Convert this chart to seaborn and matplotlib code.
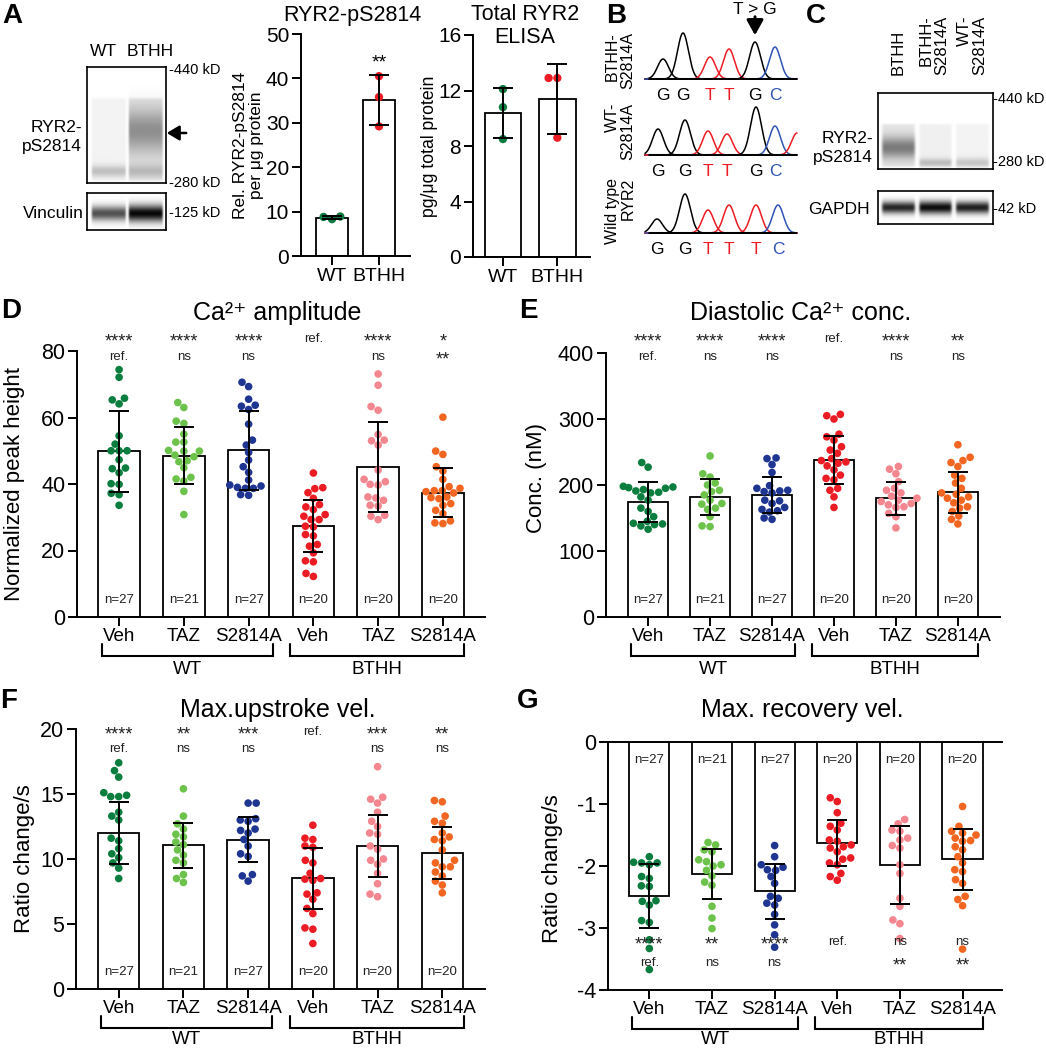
import numpy as np
import pandas as pd
import matplotlib
matplotlib.use("Agg")
import matplotlib.pyplot as plt
import seaborn as sns

W, H = 1046, 1050

# ---------------- data ----------------
groups = ["WT Veh", "WT TAZ", "WT S2814A", "BTHH Veh", "BTHH TAZ", "BTHH S2814A"]
treatments = ["Veh", "TAZ", "S2814A", "Veh", "TAZ", "S2814A"]
group_colors = ["#0b7d3e", "#6cc24a", "#1f3592", "#ec1c24", "#f3868e", "#f26622"]
n_cells = [27, 21, 27, 20, 20, 20]

# D: Ca2+ amplitude
amp_points = [
    [74.4, 72.1, 65.8, 65.3, 64.1, 54.5, 52.0, 50.0, 50.0, 50.0, 47.3, 44.8, 44.6, 43.4, 40.1, 39.9, 37.2, 36.8, 33.6],
    [64.5, 63.0, 58.9, 58.2, 55.0, 52.6, 52.6, 50.1, 49.9, 49.9, 48.7, 48.2, 47.0, 46.7, 44.9, 42.0, 41.5, 40.9, 37.8, 30.8],
    [70.6, 69.3, 65.5, 63.7, 63.4, 62.4, 58.0, 53.2, 51.7, 49.5, 47.2, 45.2, 43.5, 41.2, 39.7, 39.4, 39.0, 38.7, 38.7, 36.8, 36.6],
    [43.3, 38.9, 38.6, 37.4, 35.7, 33.8, 33.1, 32.3, 30.8, 30.3, 29.3, 29.3, 27.3, 27.1, 24.8, 24.4, 21.8, 21.3, 19.3, 16.9, 16.6, 13.1, 12.2],
    [73.1, 69.7, 63.3, 62.2, 54.9, 53.2, 53.0, 51.7, 44.2, 41.4, 40.7, 39.9, 39.7, 36.1, 35.8, 35.1, 33.6, 33.4, 30.6, 30.3, 29.3],
    [60.1, 49.9, 48.9, 45.2, 43.9, 41.4, 39.2, 38.7, 38.0, 38.0, 37.7, 37.3, 36.1, 35.9, 35.6, 34.1, 33.6, 32.1, 31.1, 28.9, 28.3, 28.1],
]
amp_mean = [49.9, 48.5, 50.1, 27.4, 45.1, 37.4]
amp_sd = [12.2, 8.5, 11.8, 7.9, 13.4, 7.4]
amp_sig_top = ["****", "****", "****", "ref.", "****", "*"]
amp_sig_bottom = ["ref.", "ns", "ns", "", "ns", "**"]

# E: diastolic Ca2+ concentration
conc_points = [
    [234, 227, 198, 197, 196, 195, 193, 191, 189, 188, 182, 177, 165, 160, 152, 145, 142, 141, 140, 138, 133],
    [244, 217, 212, 203, 200, 192, 190, 185, 177, 172, 171, 165, 163, 152, 138, 137],
    [241, 240, 231, 219, 199, 195, 192, 191, 190, 188, 177, 176, 172, 166, 163, 161, 159, 150, 148],
    [307, 305, 300, 277, 273, 268, 258, 253, 248, 240, 237, 235, 233, 229, 223, 215, 210, 208, 195, 192, 182, 166],
    [228, 224, 217, 205, 195, 192, 188, 183, 180, 177, 175, 172, 170, 167, 166, 157, 152, 135],
    [261, 242, 237, 234, 228, 215, 210, 203, 195, 188, 186, 182, 180, 177, 173, 167, 165, 160, 153, 148, 141],
]
conc_mean = [173.8, 181.9, 184.9, 237.8, 179.8, 188.9]
conc_sd = [30.5, 27.5, 27.0, 36.3, 24.6, 31.5]
conc_sig_top = ["****", "****", "****", "ref.", "****", "**"]
conc_sig_bottom = ["ref.", "ns", "ns", "", "ns", "ns"]

# F: max upstroke velocity
up_points = [
    [17.4, 16.8, 16.3, 15.1, 14.9, 14.8, 14.8, 13.6, 13.3, 13.0, 11.6, 11.4, 10.8, 10.4, 10.1, 9.7, 9.3, 8.5],
    [15.4, 13.3, 12.7, 12.3, 11.9, 11.7, 11.3, 11.1, 10.7, 10.3, 9.9, 9.7, 8.8, 8.5, 8.2],
    [14.3, 14.3, 13.1, 13.0, 12.9, 12.3, 12.2, 12.0, 11.5, 11.0, 10.4, 10.2, 8.8, 8.7, 8.3],
    [12.6, 11.6, 11.5, 11.0, 10.9, 9.9, 9.7, 8.9, 8.5, 8.45, 8.35, 7.4, 7.3, 6.9, 6.2, 5.8, 4.7, 4.6, 3.5],
    [17.1, 14.75, 14.6, 14.3, 13.6, 12.9, 12.5, 12.0, 11.9, 11.0, 10.75, 10.0, 9.9, 9.6, 8.9, 8.1, 7.3, 7.1],
    [14.5, 14.4, 13.3, 12.9, 12.75, 12.0, 11.7, 11.5, 11.4, 10.7, 9.9, 9.7, 9.4, 9.4, 9.0, 8.7, 8.3, 8.0, 7.4],
]
up_mean = [12.0, 11.06, 11.5, 8.53, 11.0, 10.5]
up_sd = [2.4, 1.74, 1.75, 2.35, 2.35, 2.0]
up_sig_top = ["****", "**", "***", "ref.", "***", "**"]
up_sig_bottom = ["ref.", "ns", "ns", "", "ns", "ns"]

# G: max recovery velocity
rec_points = [
    [-1.85, -1.94, -1.95, -1.95, -1.98, -2.17, -2.2, -2.32, -2.33, -2.56, -2.57, -2.63, -2.88, -2.91, -3.19, -3.33, -3.67],
    [-1.62, -1.66, -1.74, -1.77, -1.9, -1.93, -1.98, -2.0, -2.07, -2.16, -2.26, -2.31, -2.65, -2.84, -3.01],
    [-1.67, -1.85, -1.98, -2.02, -2.06, -2.07, -2.17, -2.28, -2.49, -2.52, -2.6, -2.63, -2.78, -2.95, -3.11, -3.31],
    [-0.9, -0.96, -1.14, -1.31, -1.36, -1.42, -1.58, -1.6, -1.66, -1.69, -1.71, -1.77, -1.87, -1.89, -1.95, -1.98, -2.12, -2.17, -2.23],
    [-1.25, -1.32, -1.42, -1.44, -1.55, -1.58, -1.67, -1.71, -1.98, -2.12, -2.52, -2.65, -2.87, -2.93, -3.17],
    [-1.04, -1.36, -1.44, -1.47, -1.5, -1.55, -1.59, -1.6, -1.69, -1.74, -1.85, -1.95, -2.06, -2.09, -2.22, -2.28, -2.49, -2.54, -2.64, -3.34],
]
rec_mean = [-2.48, -2.13, -2.41, -1.63, -1.98, -1.89]
rec_sd = [0.52, 0.40, 0.45, 0.37, 0.63, 0.49]
rec_sig_top = ["****", "**", "****", "ref.", "ns", "ns"]
rec_sig_bottom = ["ref.", "ns", "ns", "", "**", "**"]

# A: RYR2-pS2814 quantification and total RYR2 ELISA
geno = ["WT", "BTHH"]
geno_colors = ["#0b7d3e", "#ec1c24"]
ps_points = [[8.8, 8.9, 8.3], [40.5, 35.8, 29.2]]
ps_mean = [8.6, 35.2]
ps_sd = [0.35, 5.6]
elisa_points = [[12.1, 10.8, 8.5], [12.9, 12.9, 8.6]]
elisa_mean = [10.4, 11.4]
elisa_sd = [1.8, 2.5]

# blots: per lane smear (top, bottom, level) and gaussian bands (centre, sigma, darkness)
a_ryr_smear = [(0.27, 0.98, 0.05), (0.27, 0.98, 0.11)]
a_ryr_bands = [[(0.9, 0.035, 0.2)], [(0.55, 0.13, 0.33), (0.9, 0.04, 0.16)]]
a_vinc_bands = [[(0.55, 0.14, 0.68)], [(0.55, 0.16, 0.97)]]
c_ryr_smear = [(0.41, 0.97, 0.1), (0.41, 0.97, 0.06), (0.41, 0.97, 0.05)]
c_ryr_bands = [[(0.72, 0.1, 0.42)], [(0.92, 0.04, 0.2)], [(0.92, 0.045, 0.17)]]
c_gapdh_bands = [[(0.5, 0.13, 0.85)], [(0.5, 0.14, 0.95)], [(0.5, 0.13, 0.88)]]

# B: sequencing traces (scan position, peak height, base)
trace_names = ["BTHH-\nS2814A", "WT-\nS2814A", "Wild type\nRYR2"]
trace_peak_x = [[18, 38, 65, 84, 110, 130], [13, 40, 63, 82, 111, 130, 152], [12, 40, 63, 84, 111, 133]]
trace_peak_h = [[20, 46, 22, 30, 37, 32], [26, 35, 24, 21, 48, 29, 22], [14, 39, 23, 28, 28, 28]]
trace_peak_base = [list("GGTTGC"), list("GGTTGCT"), list("GGTTTC")]
trace_calls = [list("GGTTGC"), list("GGTTGC"), list("GGTTTC")]
base_colors = {"G": "black", "T": "#ec1c24", "C": "#2f54b5", "A": "#1f9a3e"}

# ---------------- style ----------------
sns.set_theme(style="ticks", rc={
    "axes.edgecolor": "black", "axes.linewidth": 1.4, "text.color": "black",
    "axes.labelcolor": "black", "xtick.color": "black", "ytick.color": "black",
    "xtick.major.width": 1.4, "ytick.major.width": 1.4,
    "xtick.major.size": 6.5, "ytick.major.size": 6.5,
})
plt.rcParams["font.family"] = ["Liberation Sans", "DejaVu Sans"]
plt.rcParams["axes.unicode_minus"] = False

fig = plt.figure(figsize=(W / 100, H / 100), dpi=100)


def axes_px(left, top, right, bottom):
    return fig.add_axes([left / W, 1 - bottom / H, (right - left) / W, (bottom - top) / H])


def ftext(x, y, s, **kw):
    kw.setdefault("ha", "center")
    kw.setdefault("va", "center")
    fig.text(x / W, 1 - y / H, s, **kw)


def soft_box(t, a, b, e):
    return 1 / (1 + np.exp(-(t - a) / e)) / (1 + np.exp((t - b) / e))


def blot(ax, lane_spans, smears, bands):
    rows = np.linspace(0, 1, 200)[:, None]
    cols = np.linspace(0, 1, 300)[None, :]
    img = np.zeros((200, 300))
    for i, (x0, x1) in enumerate(lane_spans):
        prof = np.zeros_like(rows)
        if smears is not None:
            top, bot, lvl = smears[i]
            prof = prof + lvl * soft_box(rows, top, bot, 0.006)
        for c, s, d in bands[i]:
            prof = prof + d * np.exp(-0.5 * ((rows - c) / s) ** 2)
        img += soft_box(cols, x0, x1, 0.006) * prof
    ax.imshow(np.clip(img, 0, 1), cmap="gray_r", vmin=0, vmax=1, aspect="auto",
              extent=(0, 1, 1, 0), interpolation="bilinear")
    ax.set_xticks([])
    ax.set_yticks([])
    for sp in ax.spines.values():
        sp.set_visible(True)
        sp.set_linewidth(1.2)
        sp.set_color("black")


def bars_with_points(ax, labels, colors, points, means, sds, width, dot_size, capsize):
    df_bar = pd.DataFrame({"group": labels, "value": means})
    sns.barplot(df_bar, x="group", y="value", order=labels, color="white", saturation=1,
                edgecolor="black", linewidth=1.3, width=width, errorbar=None, ax=ax)
    df_pts = pd.DataFrame({"group": np.repeat(labels, [len(p) for p in points]),
                           "value": np.concatenate(points)})
    sns.swarmplot(df_pts, x="group", y="value", order=labels, hue="group", hue_order=labels,
                  palette=colors, size=dot_size, legend=False, ax=ax, zorder=3)
    ax.errorbar(np.arange(len(labels)), means, yerr=sds, fmt="none", ecolor="black",
                elinewidth=1.4, capsize=capsize, capthick=1.4, zorder=4)
    ax.set_xlabel("")


def group_bracket(ax, x0, x1, label, text_px):
    h = ax.get_position().height * H
    trans = ax.get_xaxis_transform()
    y_line, y_end = -39 / h, -27 / h
    ax.plot([x0, x0, x1, x1], [y_end, y_line, y_line, y_end], transform=trans,
            color="black", lw=1.5, clip_on=False, solid_joinstyle="miter")
    ax.text((x0 + x1) / 2, -text_px / h, label, transform=trans, ha="center", va="top",
            fontsize=13.5)


def cell_panel(box, points, means, sds, sig_top, sig_bottom, ylim, yticks, ylabel,
               ylabel_x, ylabel_y, sig_y, n_frac, xlim, text_px=44, recovery=False):
    ax = axes_px(*box)
    bars_with_points(ax, groups, group_colors, points, means, sds, 0.64, 5.5, 7.5)
    ax.set_ylim(*ylim)
    ax.set_yticks(yticks)
    ax.set_yticklabels([f"{t:g}" for t in yticks])
    ax.tick_params(axis="y", labelsize=15.5, pad=2)
    ax.set_xticks(range(len(groups)))
    ax.set_xticklabels(treatments, fontsize=13.5)
    ax.tick_params(axis="x", pad=1.5)
    ax.set_ylabel(ylabel, fontsize=16)
    ax.yaxis.set_label_coords(ylabel_x, ylabel_y)
    if recovery:
        ax.spines["right"].set_visible(False)
        ax.spines["top"].set_visible(True)
    else:
        sns.despine(ax=ax)
    trans = ax.get_xaxis_transform()
    for i, n in enumerate(n_cells):
        ax.text(i, n_frac, f"n={n}", transform=trans, ha="center", va="center",
                fontsize=9.5, color="#222222", zorder=5)
    for row, y in zip([sig_top, sig_bottom], sig_y):
        for i, s in enumerate(row):
            if not s:
                continue
            stars = set(s) == {"*"}
            ax.text(i, y - (0.012 * (ylim[1] - ylim[0]) if stars else 0), s,
                    ha="center", va="center", fontsize=13 if stars else 9.5,
                    color="#222222", clip_on=False, zorder=5)
    group_bracket(ax, -0.27, 2.37, "WT", text_px)
    group_bracket(ax, 2.64, 5.33, "BTHH", text_px)
    ax.set_xlim(*xlim)
    return ax


# ---------------- panel A ----------------
ftext(103, 52, "WT", fontsize=12.5)
ftext(150, 52, "BTHH", fontsize=12.5)
ax_b1 = axes_px(87, 67, 166, 183)
blot(ax_b1, [(0.06, 0.49), (0.53, 0.96)], a_ryr_smear, a_ryr_bands)
ax_b2 = axes_px(87, 193, 166, 230)
blot(ax_b2, [(0.06, 0.49), (0.53, 0.96)], None, a_vinc_bands)
ftext(82, 137, "RYR2-\npS2814", ha="right", ma="right", fontsize=12.5, linespacing=1.3)
ftext(84, 213, "Vinculin", ha="right", fontsize=12.5)
ftext(169, 70, "-440 kD", ha="left", fontsize=10.5)
ftext(169, 183, "-280 kD", ha="left", fontsize=10.5)
ftext(169, 213, "-125 kD", ha="left", fontsize=10.5)
fig.add_artist(matplotlib.patches.FancyArrowPatch(
    (189 / W, 1 - 133 / H), (164 / W, 1 - 133 / H), transform=fig.transFigure,
    arrowstyle="-|>,head_length=0.5,head_width=0.3", mutation_scale=15, lw=1.8, color="black"))

ax_ps = axes_px(301, 34, 410, 256)
bars_with_points(ax_ps, geno, geno_colors, ps_points, ps_mean, ps_sd, 0.68, 6, 7)
ax_ps.set_ylim(0, 50)
ax_ps.set_yticks([0, 10, 20, 30, 40, 50])
ax_ps.set_xlim(-0.66, 1.66)
ax_ps.tick_params(axis="y", labelsize=15, pad=2)
ax_ps.tick_params(axis="x", labelsize=14, pad=2)
ax_ps.set_ylabel("Rel. RYR2-pS2814\nper μg protein", fontsize=12.5, linespacing=1.15)
ax_ps.yaxis.set_label_coords(-0.335, 0.5)
ax_ps.text(1, 43.5, "**", ha="center", va="center", fontsize=14)
sns.despine(ax=ax_ps)
ftext(352, 15, "RYR2-pS2814", fontsize=15.5)

ax_el = axes_px(473, 35, 590, 257)
bars_with_points(ax_el, geno, geno_colors, elisa_points, elisa_mean, elisa_sd, 0.67, 6, 7)
ax_el.set_ylim(0, 16)
ax_el.set_yticks([0, 4, 8, 12, 16])
ax_el.set_xlim(-0.55, 1.6)
ax_el.tick_params(axis="y", labelsize=15, pad=2)
ax_el.tick_params(axis="x", labelsize=14, pad=2)
ax_el.set_ylabel("pg/μg total protein", fontsize=12.7)
ax_el.yaxis.set_label_coords(-0.3, 0.5)
sns.despine(ax=ax_el)
ftext(525, 26, "Total RYR2\nELISA", fontsize=15.5, linespacing=1.1)

# ---------------- panel B ----------------
trace_boxes = [(645, 30, 797, 80), (645, 106, 797, 156), (645, 184, 797, 234)]
label_tops = [32, 103, 178]
grid = np.linspace(0, 152, 700)
for k, box in enumerate(trace_boxes):
    ax = axes_px(*box)
    ax.set_xlim(0, 152)
    ax.set_ylim(-1, 49)
    ax.axis("off")
    for x, h, b in zip(trace_peak_x[k], trace_peak_h[k], trace_peak_base[k]):
        ax.plot(grid, h * np.exp(-0.5 * ((grid - x) / 5.5) ** 2), color=base_colors[b],
                lw=1.1, zorder=2, clip_on=False)
    ax.plot([3, 152], [0, 0], color="black", lw=2.2, zorder=3, solid_capstyle="butt")
    for x, b in zip(trace_peak_x[k], trace_calls[k]):
        ax.text(x, -16, b, color=base_colors[b], ha="center", va="center",
                fontsize=12.5, clip_on=False)
    ftext(620, label_tops[k], trace_names[k], rotation=90, va="top", ma="right",
          fontsize=11.5, linespacing=1.05)
    if k == 0:
        ax.annotate("", xy=(110, 41), xytext=(110, 65), annotation_clip=False,
                    arrowprops=dict(arrowstyle="-|>,head_length=0.45,head_width=0.25",
                                    mutation_scale=20, lw=2.2, color="black"))
ftext(755, 9, "T > G", fontsize=12.5)

# ---------------- panel C ----------------
for x, s in zip([898, 934, 972], ["BTHH", "BTHH-\nS2814A", "WT-\nS2814A"]):
    ftext(x, 75, s, rotation=90, va="bottom", ma="right", fontsize=12, linespacing=1.0)
ax_c1 = axes_px(878, 93, 993, 169)
blot(ax_c1, [(0.035, 0.32), (0.36, 0.64), (0.68, 0.965)], c_ryr_smear, c_ryr_bands)
ax_c2 = axes_px(878, 191, 993, 224)
blot(ax_c2, [(0.035, 0.32), (0.36, 0.64), (0.68, 0.965)], None, c_gapdh_bands)
ftext(873, 148, "RYR2-\npS2814", ha="right", ma="right", fontsize=12.5, linespacing=1.3)
ftext(870, 209, "GAPDH", ha="right", fontsize=12.5)
ftext(993, 99, "-440 kD", ha="left", fontsize=10.5)
ftext(993, 162, "-280 kD", ha="left", fontsize=10.5)
ftext(993, 209, "-42 kD", ha="left", fontsize=10.5)

# ---------------- panels D-G ----------------
cell_panel((77, 351, 485, 617), amp_points, amp_mean, amp_sd, amp_sig_top, amp_sig_bottom,
           (0, 80), [0, 20, 40, 60, 80], "Normalized peak height", -0.127, 0.5,
           (83.6, 78.2), 0.065, (-0.65, 5.65))
cell_panel((606, 353, 1000, 617), conc_points, conc_mean, conc_sd, conc_sig_top, conc_sig_bottom,
           (0, 400), [0, 100, 200, 300, 400], "Conc. (nM)", -0.15, 0.527,
           (421, 394), 0.065, (-0.68, 5.68))
cell_panel((76, 729, 485, 989), up_points, up_mean, up_sd, up_sig_top, up_sig_bottom,
           (0, 20), [0, 5, 10, 15, 20], "Ratio change/s", -0.10, 0.5,
           (19.8, 18.5), 0.065, (-0.66, 5.66), text_px=41.5)
cell_panel((608, 742, 1002, 990), rec_points, rec_mean, rec_sd, rec_sig_top, rec_sig_bottom,
           (-4, 0), [0, -1, -2, -3, -4], "Ratio change/s", -0.114, 0.49,
           (-3.23, -3.57), 0.927, (-0.66, 5.63), text_px=41, recovery=True)

ftext(277, 313, "Ca²⁺ amplitude", fontsize=18)
ftext(801, 313, "Diastolic Ca²⁺ conc.", fontsize=18)
ftext(278, 710, "Max.upstroke vel.", fontsize=18)
ftext(802, 710, "Max. recovery vel.", fontsize=18)

for s, x, y in [("A", 12, 16), ("B", 616, 16), ("C", 816, 16), ("D", 11, 311),
                ("E", 528, 311), ("F", 9, 701), ("G", 528, 701)]:
    ftext(x, y, s, fontsize=20, fontweight="bold")

fig.savefig("out.png", dpi=100)
